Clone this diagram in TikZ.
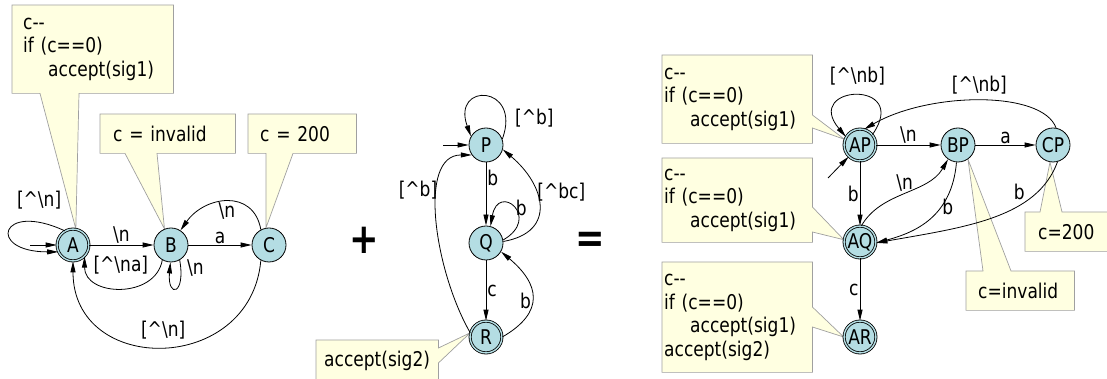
\documentclass[tikz,border=0pt]{standalone}
\usepackage{fontspec}
\setmainfont{DejaVu Sans}[FakeStretch=0.84]
\usetikzlibrary{arrows.meta,positioning,calc,backgrounds}
\definecolor{statefill}{HTML}{B4DDE3}
\definecolor{notefill}{HTML}{FFFFE1}
\definecolor{noteline}{HTML}{A0A0A0}
\newcommand{\figfont}{\fontsize{20.3}{23.5}\selectfont}
\newcommand{\xnl}{\textbackslash n}
\newcommand{\xcaret}{\textasciicircum}
\newcommand{\cdec}{c\mbox{-}\mbox{-}}
\tikzset{
  st/.style={circle,draw=black,line width=0.8pt,fill=statefill,
    minimum size=34pt,inner sep=0pt,font=\figfont},
  acc/.style={double=statefill,double distance=1.4pt,minimum size=31.8pt},
  arr/.style={-{Triangle[length=11pt,width=5pt]},line width=0.8pt},
  lbl/.style={font=\figfont,inner sep=1pt},
  note/.style={anchor=north west,align=left,inner ysep=0pt,font=\figfont},
  notepath/.style={draw=noteline,fill=notefill,line width=0.7pt},
  sign/.style={font=\fontsize{42}{42}\selectfont\bfseries,inner sep=0pt}
}
\newcommand{\tailsouth}[4]{%
  \draw[notepath] (#1.south west) -- ($(#1.south west)+(#2,0)$) -- (#4)
    -- ($(#1.south west)+(#3,0)$) -- (#1.south east) -- (#1.north east)
    -- (#1.north west) -- cycle;}
\newcommand{\tailnorth}[4]{%
  \draw[notepath] (#1.north west) -- ($(#1.north west)+(#2,0)$) -- (#4)
    -- ($(#1.north west)+(#3,0)$) -- (#1.north east) -- (#1.south east)
    -- (#1.south west) -- cycle;}
\newcommand{\taileast}[4]{%
  \draw[notepath] (#1.north west) -- (#1.north east) -- ($(#1.north east)+(0,-#2)$)
    -- (#4) -- ($(#1.north east)+(0,-#3)$) -- (#1.south east)
    -- (#1.south west) -- cycle;}

\begin{document}
\begin{tikzpicture}[x=1pt,y=1pt,on grid]
  \useasboundingbox (0,0) rectangle (1107,379);

  \node[st,acc] (A) at (73,134) {A};
  \node[st,right=98pt of A] (B) {B};
  \node[st,right=98pt of B] (C) {C};
  \coordinate (startA) at (30,134);

  \node[sign] (plus) at (364,139) {+};

  \node[st] (P) at (486,234) {P};
  \node[st,below=98pt of P] (Q) {Q};
  \node[st,acc,below=94pt of Q] (R) {R};
  \coordinate (startP) at (443,234);

  \node[sign] (equals) at (590,137) {=};

  \node[st,acc] (AP) at (860,234) {AP};
  \node[st,right=98pt of AP] (BP) {BP};
  \node[st,right=95pt of BP] (CP) {CP};
  \node[st,acc,below=97pt of AP] (AQ) {AQ};
  \node[st,acc,below=95pt of AQ] (AR) {AR};
  \coordinate (startAP) at (828,201);

  \node[note,text width=139pt,inner xsep=11pt,minimum height=88pt] (nA) at (12,374)
    {\cdec\\if (c==0)\\\hspace*{25pt}accept(sig1)};
  \node[note,text width=109pt,inner xsep=13pt,minimum height=39pt] (nB) at (100,265)
    {c = invalid};
  \node[note,text width=84pt,inner xsep=12pt,minimum height=39pt] (nC) at (248,265)
    {c = 200};
  \node[note,text width=106pt,inner xsep=8pt,minimum height=42pt] (nR) at (316,39)
    {accept(sig2)};
  \node[note,text width=146pt,inner xsep=2pt,minimum height=88pt] (nAP) at (662,324)
    {\cdec\\if (c==0)\\\hspace*{26pt}accept(sig1)};
  \node[note,text width=146pt,inner xsep=2pt,minimum height=84pt] (nAQ) at (662,221)
    {\cdec\\if (c==0)\\\hspace*{26pt}accept(sig1)};
  \node[note,text width=146pt,inner xsep=2pt,minimum height=110pt] (nAR) at (662,117)
    {\cdec\\if (c==0)\\\hspace*{26pt}accept(sig1)\\accept(sig2)};
  \node[note,text width=84pt,inner xsep=12pt,minimum height=39pt] (nBP) at (966,108)
    {c=invalid};
  \node[note,text width=84pt,inner xsep=13pt,minimum height=39pt] (nCP) at (1025,167)
    {c=200};

  \begin{scope}[on background layer]
    \tailsouth{nA}{28}{67}{A.80}
    \tailsouth{nB}{25}{57}{B.112}
    \tailsouth{nC}{18}{45}{C.100}
    \taileast{nR}{8}{23}{R.165}
    \taileast{nAP}{60}{73}{AP.160}
    \taileast{nAQ}{49}{74}{AQ.172}
    \taileast{nAR}{45}{65}{AR.180}
    \tailnorth{nBP}{17}{45}{BP.-55}
    \tailnorth{nCP}{15}{37}{CP.-100}
  \end{scope}

  \draw[arr] (startA) -- (A);
  \draw[arr] (A.120) to[out=155,in=180,distance=72pt]
    node[lbl,above=12pt,pos=0.15] {[\xcaret\xnl]} (A.205);
  \draw[arr] (A) -- node[lbl,above] {\xnl} (B);
  \draw[arr] (B.-120) to[out=-100,in=-90,distance=40pt]
    node[lbl,above=12pt] {[\xcaret\xnl a]} (A.-45);
  \draw[arr] (B.-60) to[out=-80,in=-95,distance=36pt]
    node[lbl,above right=0pt and 5pt,pos=0.2] {\xnl} (B.-92);
  \draw[arr] (B) -- node[lbl,above] {a} (C);
  \draw[arr] (C.118) to[out=100,in=55,distance=42pt]
    node[lbl,below] {\xnl} (B.57);
  \draw[arr] (C.-118) to[out=-95,in=-90,distance=115pt]
    node[lbl,above=6pt] {[\xcaret\xnl]} (A.-90);

  \draw[arr] (startP) -- (P);
  \draw[arr] (P.20) to[out=70,in=110,distance=58pt]
    node[lbl,right=8pt,pos=0.15] {[\xcaret b]} (P.150);
  \draw[arr] (P) -- node[lbl,right,pos=0.25] {b} (Q);
  \draw[arr] (Q.10) to[out=30,in=80,distance=45pt]
    node[lbl,anchor=west,pos=0.5] {b} (Q.75);
  \draw[arr] (Q.5) to[out=10,in=-40,distance=55pt]
    node[lbl,right,pos=0.62] {[\xcaret bc]} (P.-15);
  \draw[arr] (Q) -- node[lbl,right] {c} (R);
  \draw[arr] (R.0) to[out=30,in=-40,distance=50pt]
    node[lbl,left,pos=0.45] {b} (Q.-30);
  \draw[arr] (R.165) to[out=120,in=180,out distance=70pt,in distance=55pt]
    node[lbl,left,pos=0.65] {[\xcaret b]} (P.-145);

  \draw[arr] (startAP) -- (AP);
  \draw[arr] (AP.40) to[out=55,in=130,distance=68pt]
    node[lbl,above=9pt] {[\xcaret\xnl b]} (AP.150);
  \draw[arr] (CP.80) to[out=110,in=30,out distance=40pt,in distance=75pt]
    node[lbl,above=5pt] {[\xcaret\xnl b]} (AP.75);
  \draw[arr] (AP) -- node[lbl,above] {\xnl} (BP);
  \draw[arr] (BP) -- node[lbl,above] {a} (CP);
  \draw[arr] (AP) -- node[lbl,left] {b} (AQ);
  \draw[arr] (AQ.85) to[out=60,in=-120,distance=40pt]
    node[lbl,above] {\xnl} (BP.-125);
  \draw[arr] (BP.-95) to[out=-95,in=15,out distance=55pt,in distance=40pt]
    node[lbl,right,pos=0.35] {b} (AQ.-3);
  \draw[arr] (CP.-75) to[out=-110,in=10,out distance=60pt,in distance=90pt]
    node[lbl,above left,pos=0.3] {b} (AQ.-3);
  \draw[arr] (AQ) -- node[lbl,left] {c} (AR);
\end{tikzpicture}
\end{document}
